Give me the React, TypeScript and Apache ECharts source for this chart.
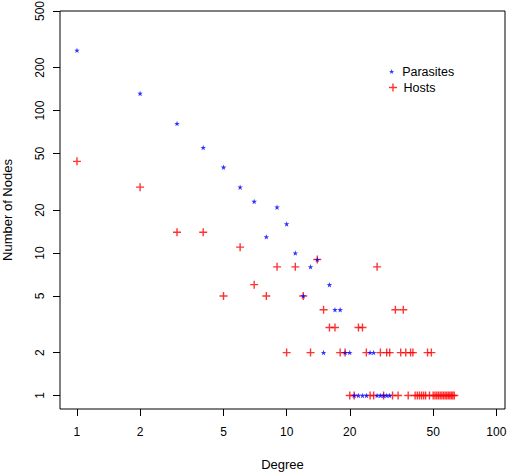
import React, { useEffect, useRef } from 'react';
import * as echarts from 'echarts';

// tick values on the two log axes
const DEGREE_TICKS = [1, 2, 5, 10, 20, 50, 100];
const COUNT_TICKS = [1, 2, 5, 10, 20, 50, 100, 200, 500];

// parasites: degree -> number of nodes
const parasiteDegree = [
  1, 2, 3, 4, 5, 6, 7, 8, 9, 10, 11, 12, 13, 14, 15, 16, 17, 18, 19, 20,
  21, 22, 23, 24, 25, 26, 27, 28, 29, 30, 31,
];
const parasiteCount = [
  265, 132, 81, 55, 40, 29, 23, 13, 21, 16, 10, 5, 8, 9, 2, 6, 4, 4, 2, 2,
  1, 1, 1, 1, 2, 2, 1, 1, 1, 1, 1,
];

// hosts: degree -> number of nodes
const hostDegree = [
  1, 2, 3, 4, 5, 6, 7, 8, 9, 10, 11, 12, 13, 14, 15, 16, 17, 18, 19, 20,
  21, 22, 23, 24, 25, 26, 27, 28, 29, 30, 31, 32, 33, 34, 35, 36, 37, 38, 39, 40,
  41, 42, 43, 44, 45, 46, 47, 48, 49, 50, 51, 52, 53, 54, 55, 56, 57, 58, 59, 60,
  61, 62, 63,
];
const hostCount = [
  44, 29, 14, 14, 5, 11, 6, 5, 8, 2, 8, 5, 2, 9, 4, 3, 3, 2, 2, 1,
  1, 3, 3, 2, 1, 1, 8, 2, 1, 2, 2, 1, 4, 1, 2, 4, 2, 1, 2, 2,
  1, 1, 1, 1, 1, 1, 2, 1, 2, 1, 1, 1, 1, 1, 1, 1, 1, 1, 1, 1,
  1, 1, 1,
];

const STAR =
  'path://M5,0L6.18,3.45L9.76,3.45L6.91,5.57L7.94,9.05L5,7L2.06,9.05L3.09,5.57L0.24,3.45L3.82,3.45Z';
const PLUS = 'path://M3.3,0H4.7V3.3H8V4.7H4.7V8H3.3V4.7H0V3.3H3.3Z';

const FONT = '"Liberation Sans", Arial, Helvetica, sans-serif';

const App: React.FC = () => {
  const chartRef = useRef<HTMLDivElement>(null);

  useEffect(() => {
    if (!chartRef.current) return;
    const chart = echarts.init(chartRef.current, undefined, { renderer: 'svg' });

    const pairs = (xs: number[], ys: number[]) => xs.map((x, i) => [x, ys[i]]);

    chart.setOption({
      animation: false,
      textStyle: { fontFamily: FONT },
      grid: {
        left: 60,
        top: 11,
        right: 2,
        bottom: 63,
        show: true,
        borderColor: '#000',
        borderWidth: 1,
        backgroundColor: 'transparent',
        outerBoundsMode: 'none',
      },
      legend: [
        {
          left: 389,
          top: 65,
          orient: 'vertical',
          padding: 0,
          itemWidth: 11,
          itemHeight: 5,
          textStyle: { fontSize: 12.5, color: '#000', fontFamily: FONT },
          data: [{ name: 'Parasites', icon: STAR }],
        },
        {
          left: 389,
          top: 81,
          orient: 'vertical',
          padding: 0,
          itemWidth: 11,
          itemHeight: 8,
          textStyle: { fontSize: 12.5, color: '#000', fontFamily: FONT },
          data: [{ name: 'Hosts', icon: PLUS }],
        },
      ],
      xAxis: {
        type: 'log',
        min: 0.83,
        max: 110,
        name: 'Degree',
        nameLocation: 'middle',
        nameGap: 49,
        nameTextStyle: { fontSize: 13, color: '#000', fontFamily: FONT },
        axisLine: { show: false },
        axisTick: {
          show: true,
          length: 7,
          lineStyle: { color: '#000' },
          customValues: DEGREE_TICKS,
        },
        minorTick: { show: false },
        splitLine: { show: false },
        axisLabel: {
          fontSize: 12,
          color: '#000',
          margin: 17,
          fontFamily: FONT,
          customValues: DEGREE_TICKS,
          formatter: (v: number) => String(v),
        },
      },
      yAxis: {
        type: 'log',
        min: 0.804,
        max: 500,
        name: 'Number of Nodes',
        nameLocation: 'middle',
        nameGap: 46,
        nameTextStyle: { fontSize: 13, color: '#000', fontFamily: FONT },
        axisLine: { show: false },
        axisTick: {
          show: true,
          length: 7,
          lineStyle: { color: '#000' },
          customValues: COUNT_TICKS,
        },
        minorTick: { show: false },
        splitLine: { show: false },
        axisLabel: {
          fontSize: 12,
          color: '#000',
          rotate: 90,
          margin: 14,
          fontFamily: FONT,
          customValues: COUNT_TICKS,
          formatter: (v: number) => String(v),
        },
      },
      series: [
        {
          name: 'Hosts',
          type: 'scatter',
          symbol: PLUS,
          symbolSize: 8,
          itemStyle: { color: '#ff0000' },
          data: pairs(hostDegree, hostCount),
        },
        {
          name: 'Parasites',
          type: 'scatter',
          symbol: STAR,
          symbolSize: 5.5,
          itemStyle: { color: '#0000ff' },
          data: pairs(parasiteDegree, parasiteCount),
        },
      ],
    });

    return () => chart.dispose();
  }, []);

  return (
    <div
      ref={chartRef}
      style={{ position: 'absolute', left: 0, top: 0, width: 507, height: 472, background: '#fff' }}
    />
  );
};

export default App;
